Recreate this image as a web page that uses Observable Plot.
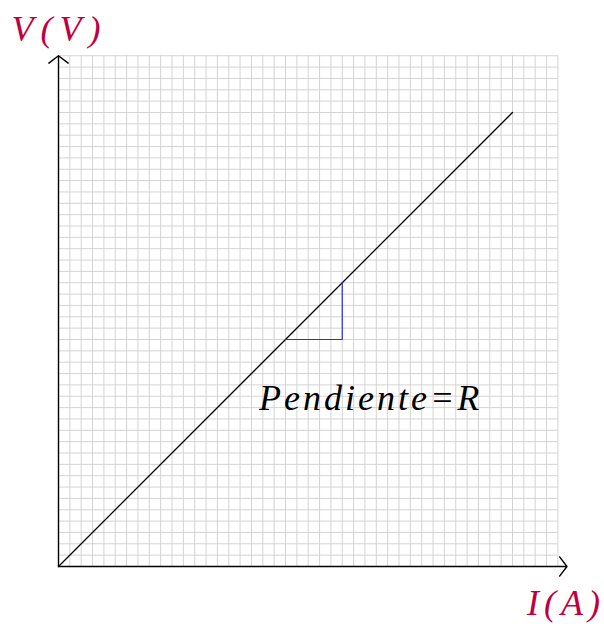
<!DOCTYPE html>
<html>
<head>
<meta charset="utf-8">
<script src="https://cdn.jsdelivr.net/npm/d3@7"></script>
<script src="https://cdn.jsdelivr.net/npm/@observablehq/plot@0.6"></script>
<style>
  html, body { margin: 0; padding: 0; background: #fff; }
</style>
</head>
<body>
<div id="chart"></div>
<script>
// Data (grid units: one small grid square = 1)
const lineI = [0, 40];
const lineV = [0, 40];
const slopeI = [20, 25, 25];
const slopeV = [20, 20, 25];
const gridXTicks = d3.range(0, 45);
const gridYTicks = d3.range(0, 46);
const xLabel = "I(A)";
const yLabel = "V(V)";
const noteText = "Pendiente=R";
const noteI = [27.5];
const noteV = [13.8];

const purple = "#BF0040";
const serif = "'Liberation Serif', 'Times New Roman', serif";

const lineData = lineI.map((x, i) => ({x, y: lineV[i]}));
const slopeData = slopeI.map((x, i) => ({x, y: slopeV[i]}));
const noteData = noteI.map((x, i) => ({x, y: noteV[i], t: noteText}));

const W = 604, H = 626;
const cell = 11.35;
const mL = 58, mB = 60;
const mR = W - mL - 44 * cell;
const mT = H - mB - 45 * cell;

const chart = Plot.plot({
  width: W,
  height: H,
  marginLeft: mL,
  marginRight: mR,
  marginTop: mT,
  marginBottom: mB,
  x: {domain: [0, 44], axis: null},
  y: {domain: [0, 45], axis: null},
  style: {background: "#fff"},
  marks: [
    Plot.gridX(gridXTicks, {stroke: "#cfcfcf", strokeOpacity: 1, strokeWidth: 0.9}),
    Plot.gridY(gridYTicks, {stroke: "#cfcfcf", strokeOpacity: 1, strokeWidth: 0.9}),
    Plot.line(lineData, {x: "x", y: "y", stroke: "#000", strokeWidth: 1.3}),
    Plot.line(slopeData, {x: "x", y: "y", stroke: "#2f2fe0", strokeWidth: 1.2}),
    Plot.arrow([{x1: 0, y1: 0, x2: 44.8, y2: 0}], {
      x1: "x1", y1: "y1", x2: "x2", y2: "y2",
      stroke: "#000", strokeWidth: 1.4, headLength: 13, headAngle: 105
    }),
    Plot.arrow([{x1: 0, y1: 0, x2: 0, y2: 45}], {
      x1: "x1", y1: "y1", x2: "x2", y2: "y2",
      stroke: "#000", strokeWidth: 1.4, headLength: 13, headAngle: 105
    }),
    Plot.text(noteData, {
      x: "x", y: "y", text: "t",
      fontFamily: serif, fontStyle: "italic", fontSize: 36,
      textAnchor: "middle", lineAnchor: "bottom", fill: "#000"
    }),
    Plot.text([yLabel], {
      frameAnchor: "top-left", textAnchor: "middle", lineAnchor: "bottom",
      dx: 1, dy: -15, fill: purple,
      fontFamily: serif, fontStyle: "italic", fontSize: 36
    }),
    Plot.text([xLabel], {
      frameAnchor: "bottom-right", textAnchor: "middle", lineAnchor: "bottom",
      dx: 8, dy: 48, fill: purple,
      fontFamily: serif, fontStyle: "italic", fontSize: 36
    })
  ]
});

// Computer-Modern-like wide spacing for the math-style texts
d3.select(chart).selectAll("text").each(function () {
  const t = this.textContent;
  if (t === noteText) this.setAttribute("letter-spacing", "3");
  else if (t === yLabel) this.setAttribute("letter-spacing", "7");
  else if (t === xLabel) this.setAttribute("letter-spacing", "5");
});

document.getElementById("chart").appendChild(chart);
</script>
</body>
</html>
